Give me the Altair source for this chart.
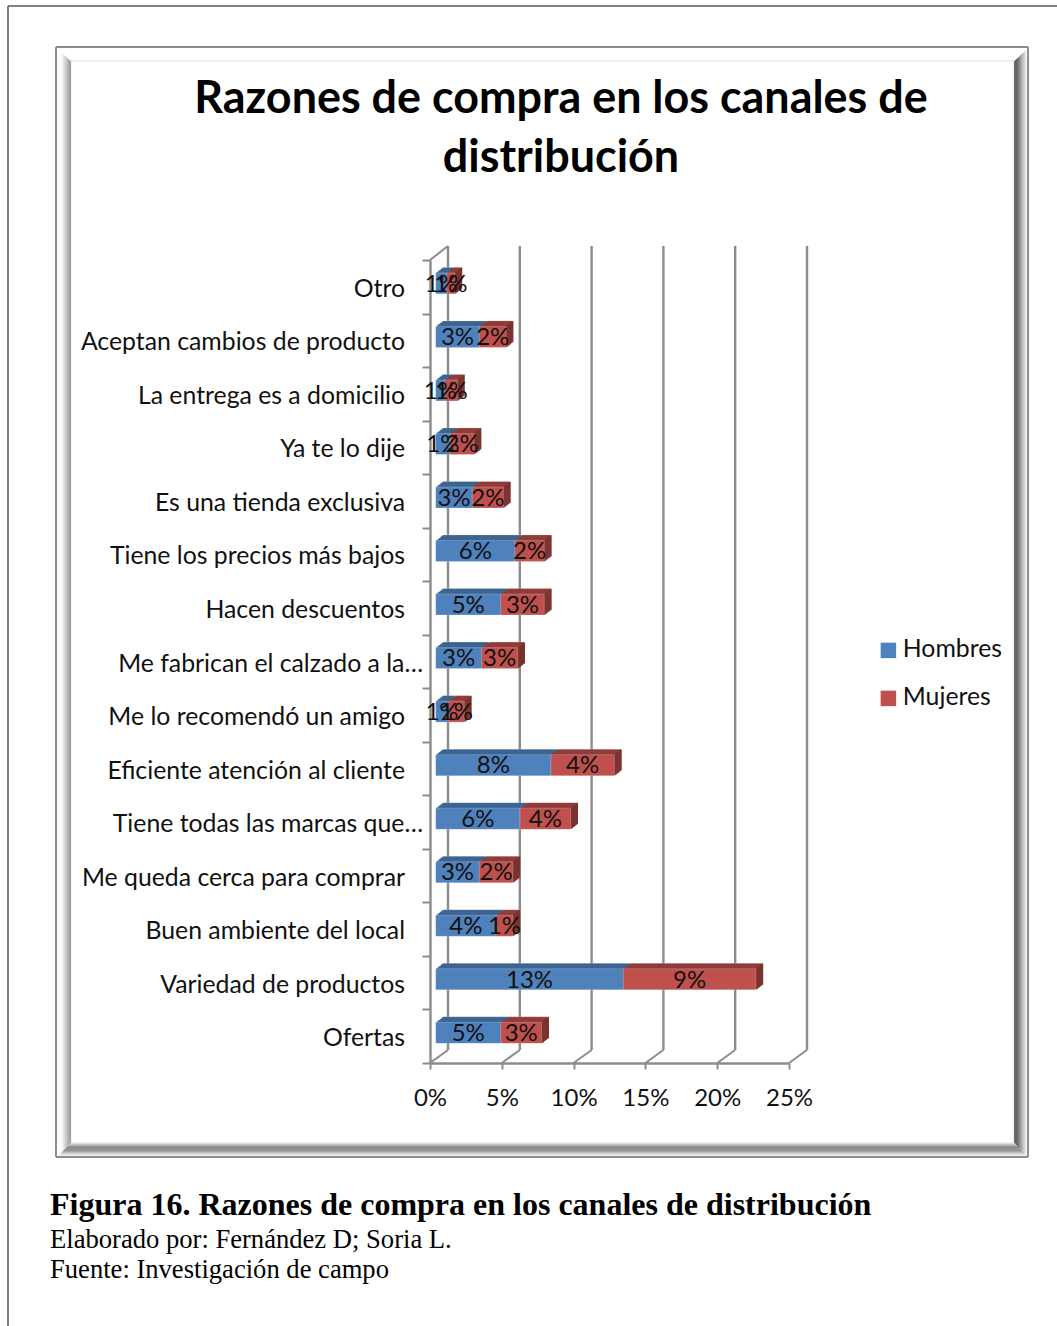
import altair as alt
import pandas as pd

# Survey results, top row of the chart first
categories = [
    "Otro", "Aceptan cambios de producto", "La entrega es a domicilio", "Ya te lo dije",
    "Es una tienda exclusiva", "Tiene los precios más bajos", "Hacen descuentos",
    "Me fabrican el calzado a la…", "Me lo recomendó un amigo", "Eficiente atención al cliente",
    "Tiene todas las marcas que…", "Me queda cerca para comprar", "Buen ambiente del local",
    "Variedad de productos", "Ofertas",
]
truncated = ["Me fabrican el calzado a la…", "Tiene todas las marcas que…"]
hombres = [0.0077, 0.0304, 0.0065, 0.0100, 0.0255, 0.0552, 0.0453, 0.0320,
           0.0088, 0.0803, 0.0587, 0.0304, 0.0420, 0.1307, 0.0453]
mujeres = [0.0057, 0.0186, 0.0086, 0.0167, 0.0216, 0.0204, 0.0303, 0.0251,
           0.0111, 0.0441, 0.0353, 0.0234, 0.0118, 0.0923, 0.0285]
x_ticks = [0, 0.05, 0.10, 0.15, 0.20, 0.25]

BLUE, RED = "#4f81bd", "#c0504d"
BLUE_TOP, RED_TOP, RED_SIDE = "#3d6592", "#8f3d3a", "#7b3330"
GRID = "#8c8c8c"
SANS = "Lato"
SERIF = "Liberation Serif"

# Plot area in page pixels
LEFT, TOP, RIGHT, BOTTOM = 430, 260, 789, 1063
W, H = RIGHT - LEFT, BOTTOM - TOP
PX_PER_UNIT = W / 0.25

BAR_SIZE = 21
BAR_INSET = 5.7          # gap between the wall and the bar base
BAR_LIFT = -3.4          # bars float slightly above the band centre
DEPTH_STEPS = 7
DEPTH_SLOPE = 0.786
WALL_DX, WALL_DY = 18, 13

rows = []
for c, h, m in zip(categories, hombres, mujeres):
    rows.append({"cat": c, "serie": "Hombres", "ini": 0.0, "fin": h, "val": h, "mid": h / 2})
    rows.append({"cat": c, "serie": "Mujeres", "ini": h, "fin": h + m, "val": m, "mid": h + m / 2})
bars = pd.DataFrame(rows)
cats = pd.DataFrame({"cat": categories})
ticks = pd.DataFrame({"t": x_ticks})
ticks["t2"] = ticks["t"] + WALL_DX / PX_PER_UNIT
wall_top = pd.DataFrame({"t": [0.0], "t2": [WALL_DX / PX_PER_UNIT]})
one = pd.DataFrame({"a": [0]})

x_scale = alt.Scale(domain=[0, 0.25], nice=False, zero=False)
y_scale = alt.Scale(domain=categories, paddingInner=0, paddingOuter=0)
x_axis = alt.Axis(
    values=x_ticks, format=".0%", labelFont=SANS, labelFontSize=24, labelColor="#111111",
    labelPadding=17, domainColor=GRID, domainWidth=2.4, tickColor=GRID, tickWidth=2,
    tickSize=6, grid=False, labelFlush=False, labelOverlap=False, title=None,
)
y_axis = alt.Axis(
    labels=False, domainColor=GRID, domainWidth=2.4, tickColor=GRID, tickWidth=2,
    tickSize=8, tickBand="extent", grid=False, title=None,
)


def X(field):
    return alt.X(field, scale=x_scale, axis=x_axis)


def Y():
    return alt.Y("cat:N", scale=y_scale, axis=y_axis)


def px(v):
    return alt.value(v - LEFT)


def py(v):
    return alt.value(v - TOP)


def page_rule(x1, y1, x2, y2, color, width=1.2):
    return alt.Chart(one).mark_rule(color=color, strokeWidth=width).encode(
        x=px(x1), x2=px(x2), y=py(y1), y2=py(y2)
    )


def page_text(x, y, text, align="left", **kw):
    return alt.Chart(pd.DataFrame({"s": [text]})).mark_text(align=align, baseline="alphabetic", **kw).encode(
        x=px(x), y=py(y), text="s:N"
    )


layers = []

# Page border and the bevelled chart frame, one nested strip per pixel
layers += [page_rule(8, 6, 8, 1326, "#5a5a5a", 1.6), page_rule(8, 6, 1057, 6, "#5a5a5a", 1.6)]
layers += [
    page_rule(56, 47, 1028, 47, "#8c8c8c", 2), page_rule(56, 47, 56, 1157, "#8c8c8c", 2),
    page_rule(56, 1157, 1028, 1157, "#8c8c8c", 2), page_rule(1028, 47, 1028, 1157, "#8c8c8c", 2),
]
left_shades = ["#ffffff", "#ffffff", "#ffffff", "#fafafa", "#f2f2f2", "#e8e8e8", "#dcdcdc",
               "#d2d2d2", "#c8c8c8", "#bcbcbc", "#b0b0b0", "#a6a6a6", "#a0a0a0"]
top_shades = ["#ffffff"] * 11 + ["#f6f6f6", "#e6e6e6"]
right_shades = ["#f4f4f4", "#e6e6e6", "#d8d8d8", "#cacaca", "#bcbcbc", "#aeaeae", "#9e9e9e",
                "#8c8c8c", "#7c7c7c", "#6e6e6e", "#666666", "#666666", "#6e6e6e"]
bottom_shades = ["#f2f2f2", "#e0e0e0", "#cfcfcf", "#bdbdbd", "#a8a8a8", "#909090", "#7c7c7c",
                 "#767676", "#7c7c7c", "#8e8e8e", "#a6a6a6", "#c0c0c0", "#dcdcdc"]
for i in range(13):
    xl, xr = 58.5 + i, 1026.5 - i
    yt, yb = 49.5 + i * 11.5 / 12, 1155.5 - i * 12.5 / 12
    layers.append(page_rule(xl, yt, xr, yt, top_shades[i]))
    layers.append(page_rule(xl, yb, xr, yb, bottom_shades[i]))
    layers.append(page_rule(xl, yt, xl, yb, left_shades[i]))
    layers.append(page_rule(xr, yt, xr, yb, right_shades[i]))

# Chart title
TITLE_LINES = ["Razones de compra en los canales de", "distribución"]
layers.append(page_text(561, 113, TITLE_LINES[0], align="center", font=SANS, fontSize=44.9, fontWeight="bold", color="#000000"))
layers.append(page_text(561, 172, TITLE_LINES[1], align="center", font=SANS, fontSize=44.9, fontWeight="bold", color="#000000"))

# Back wall gridlines and the floor lines that join them to the axis
layers.append(alt.Chart(ticks).mark_rule(color=GRID, strokeWidth=2.4, xOffset=WALL_DX).encode(
    x=X("t:Q"),
    y=alt.value(-14),
    y2=alt.value(H - WALL_DY),
))
layers.append(alt.Chart(ticks).mark_rule(color=GRID, strokeWidth=2).encode(
    x=X("t:Q"), x2="t2:Q", y=alt.value(H), y2=alt.value(H - WALL_DY),
))
layers.append(alt.Chart(wall_top).mark_rule(color=GRID, strokeWidth=2).encode(
    x=X("t:Q"), x2="t2:Q", y=alt.value(0), y2=alt.value(-WALL_DY - 1),
))

# Category labels; the two shortened ones run closer to the axis
plain = [c for c in categories if c not in truncated]
for subset, right_edge in ((plain, 405), (truncated, 423)):
    layers.append(alt.Chart(cats).transform_filter(
        alt.FieldOneOfPredicate(field="cat", oneOf=subset)
    ).mark_text(align="right", baseline="middle", font=SANS, fontSize=24.8, color="#111111", yOffset=3).encode(
        x=px(right_edge),
        y=Y(),
        text="cat:N",
    ))


def series(name):
    return alt.Chart(bars).transform_filter(alt.datum.serie == name)


def extruded(name, color, k, **kw):
    dx = BAR_INSET + k
    return series(name).mark_bar(
        size=BAR_SIZE, color=color, xOffset=dx, x2Offset=dx, yOffset=BAR_LIFT - k * DEPTH_SLOPE, **kw
    ).encode(x=X("ini:Q"), x2="fin:Q", y=Y())


# Extruded top faces, then the side of the last segment, then the front faces
for name, color in (("Hombres", BLUE_TOP), ("Mujeres", RED_TOP)):
    layers.append(extruded(name, color, DEPTH_STEPS, stroke="#ffffff", strokeOpacity=0.2, strokeWidth=1))
    for k in range(DEPTH_STEPS - 1, 0, -1):
        layers.append(extruded(name, color, k))

for k in range(DEPTH_STEPS):
    dx = BAR_INSET + k
    layers.append(series("Mujeres").mark_bar(
        size=BAR_SIZE, color=RED_SIDE, xOffset=dx, x2Offset=dx + 1.3,
        yOffset=BAR_LIFT - (k + 0.5) * DEPTH_SLOPE,
    ).encode(x=X("fin:Q"), x2="fin:Q", y=Y()))

layers.append(alt.Chart(bars).mark_bar(
    size=BAR_SIZE, xOffset=BAR_INSET, x2Offset=BAR_INSET, yOffset=BAR_LIFT,
    stroke="#ffffff", strokeOpacity=0.2, strokeWidth=1,
).encode(
    x=X("ini:Q"), x2="fin:Q", y=Y(),
    color=alt.Color("serie:N", scale=alt.Scale(domain=["Hombres", "Mujeres"], range=[BLUE, RED]), legend=alt.Legend(
        title=None, orient="none", legendX=446, legendY=378, symbolType="square", symbolSize=240,
        symbolStrokeWidth=0, labelFont=SANS, labelFontSize=24.8, labelColor="#111111",
        labelOffset=2, rowPadding=22, labelLimit=200,
    )),
))

# Value labels centred on each segment
layers.append(alt.Chart(bars).mark_text(
    font=SANS, fontSize=24, color="#111111", xOffset=BAR_INSET, yOffset=BAR_LIFT + 1.2, baseline="middle",
).encode(
    x=X("mid:Q"), y=Y(),
    text=alt.Text("val:Q", format=".0%"),
))

# Figure caption below the frame
layers.append(page_text(50, 1215, "Figura 16. Razones de compra en los canales de distribución",
                        font=SERIF, fontSize=32, fontWeight="bold", color="#000000"))
layers.append(page_text(50, 1248, "Elaborado por: Fernández D; Soria L.", font=SERIF, fontSize=26.6, color="#000000"))
layers.append(page_text(50, 1278, "Fuente: Investigación de campo", font=SERIF, fontSize=26.6, color="#000000"))

chart = alt.layer(*layers).properties(
    width=W,
    height=H,
    padding={"left": LEFT, "top": TOP, "right": 1057 - RIGHT, "bottom": 1326 - BOTTOM},
    autosize=alt.AutoSizeParams(type="none"),
    background="#ffffff",
).configure_view(stroke=None)

chart.save("out.html", embed_options={"renderer": "svg", "actions": False})
